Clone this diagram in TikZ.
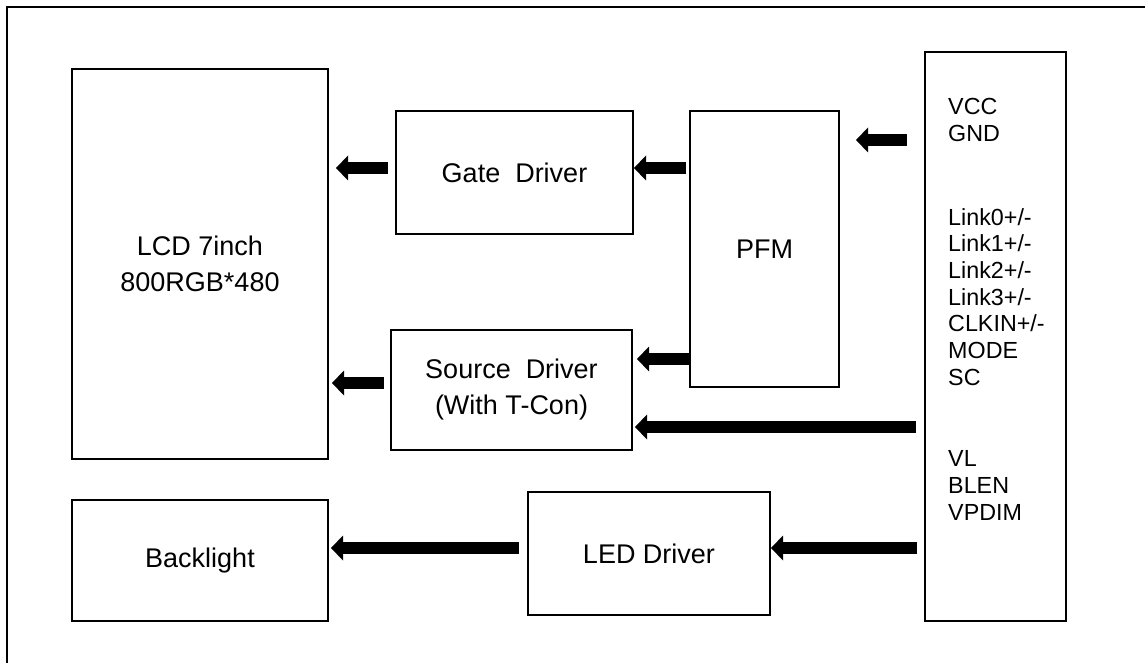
\documentclass[tikz,border=0pt]{standalone}
\usepackage{fontspec}
\setmainfont{Liberation Sans}
\usetikzlibrary{arrows.meta,calc}
\tikzset{
  box/.style={draw, line width=2pt, inner sep=0pt, align=center, font=\fontsize{27}{36}\selectfont},
  pin/.style={inner sep=0pt, anchor=base west, font=\fontsize{23.3}{26.7}\selectfont},
  fat/.style={line width=12.5pt, -{Triangle[width=25pt,length=12pt,line width=0pt]}},
}
\begin{document}
\begin{tikzpicture}[x=1pt,y=-1pt]
\useasboundingbox (0,0) rectangle (1145,663);
\draw[line width=2.5pt] (7,663) -- (7,7) -- (1145,7);

\node[box, minimum width=256pt, minimum height=390pt] (lcd) at (200,264) {LCD 7inch\\800RGB*480};
\node[box, minimum width=256pt, minimum height=121pt] (bl) at (200,560.5) {Backlight};
\node[box, minimum width=237pt, minimum height=123pt] (gate) at (514.5,172.5) {Gate\ \ Driver};
\node[box, minimum width=149pt, minimum height=276pt] (pfm) at (764.5,249) {PFM};
\node[box, minimum width=241pt, minimum height=120pt] (src) at (511.5,390) {Source\ \ Driver\\(With T-Con)};
\node[box, minimum width=242pt, minimum height=123pt] (led) at (649,553.5) {LED Driver};
\node[box, minimum width=141pt, minimum height=569pt] (conn) at (995.5,336.5) {};

\foreach \t/\y [count=\i] in {VCC/115, GND/141.7, {Link0+/-}/225, {Link1+/-}/251.7, {Link2+/-}/278.3, {Link3+/-}/305, {CLKIN+/-}/331.7, MODE/358.3, SC/385, VL/466.7, BLEN/493.3, VPDIM/520}
  \node[pin] (p\i) at (948,\y) {\t};

\coordinate (y1) at (0,140);
\coordinate (y2) at (0,168);
\coordinate (y3) at (0,359);
\coordinate (y4) at (0,383);
\coordinate (y5) at (0,427);
\coordinate (y6) at (0,548);

\draw[fat, shorten <=17pt, shorten >=16pt] (conn.west |- y1) -- (pfm.east |- y1);
\draw[fat, shorten <=3pt] (pfm.west |- y2) -- (gate.east |- y2);
\draw[fat, shorten <=7pt, shorten >=7pt] (gate.west |- y2) -- (lcd.east |- y2);
\draw[fat, shorten >=4pt] (pfm.west |- y3) -- (src.east |- y3);
\draw[fat, shorten <=6pt, shorten >=3pt] (src.west |- y4) -- (lcd.east |- y4);
\draw[fat, shorten <=8pt, shorten >=2pt] (conn.west |- y5) -- (src.east |- y5);
\draw[fat, shorten <=8pt, shorten >=2pt] (led.west |- y6) -- (bl.east |- y6);
\draw[fat, shorten <=7pt] (conn.west |- y6) -- (led.east |- y6);
\end{tikzpicture}
\end{document}
